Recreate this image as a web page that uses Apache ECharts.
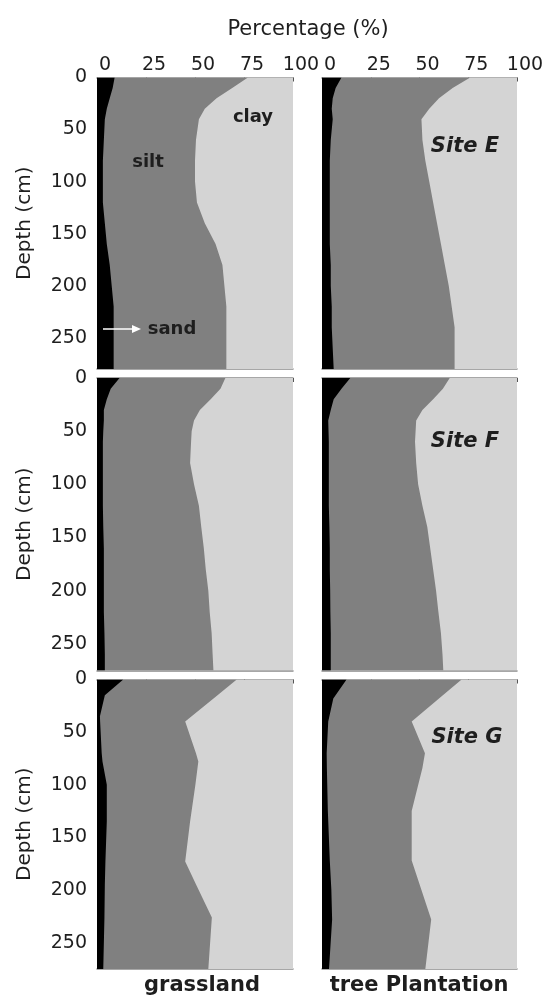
<!DOCTYPE html>
<html>
<head>
<meta charset="utf-8">
<script src="https://cdn.jsdelivr.net/npm/echarts@6/dist/echarts.min.js"></script>
<style>
html,body{margin:0;padding:0;background:#fff;}
#chart{width:547px;height:998px;}
</style>
</head>
<body>
<div id="chart"></div>
<script>
// ---- tick labels / text ----
const xTickValues = [0, 25, 50, 75, 100];
const depthTickStep = 50;
const siteNames = ['Site E', 'Site F', 'Site G'];
const columnNames = ['grassland', 'tree Plantation'];
const layerNames = ['clay', 'silt', 'sand'];
const depthMax = [280, 275, 275];

// ---- Site E, grassland ----
const depthEG = [0, 10, 20, 30, 40, 60, 80, 100, 120, 140, 160, 180, 200, 220, 240, 260, 280];
const sandEG  = [9, 8, 6.5, 5, 4, 3.5, 3, 3, 3, 4, 5, 6.5, 7.5, 8.5, 8.5, 8.5, 8.5];
const siltEG  = [68, 61, 54.5, 50, 48, 47, 47, 47, 48, 51, 55.5, 57.5, 57.5, 57.5, 57.5, 57.5, 57.5];

// ---- Site E, tree plantation ----
const depthET = [0, 10, 20, 30, 40, 60, 80, 100, 120, 140, 160, 180, 200, 220, 240, 260, 280];
const sandET  = [10, 7, 5.5, 5, 5.5, 4.5, 4, 4, 4, 4, 4, 4.5, 4.5, 5, 5, 5.5, 6];
const siltET  = [66, 60, 54.5, 50, 45.5, 47, 49, 51, 53, 55, 57, 58.5, 60.5, 61.5, 63, 62.5, 62];

// ---- Site F, grassland ----
const depthFG = [0, 10, 20, 30, 40, 50, 60, 80, 100, 120, 140, 160, 180, 200, 220, 240, 260, 275];
const sandFG  = [11.5, 7, 5, 3.5, 3.5, 3.2, 3, 3, 3, 3, 3.2, 3.5, 3.5, 3.5, 3.5, 3.8, 4, 4];
const siltFG  = [54, 56, 53, 49, 46, 45.1, 45, 44.5, 46.5, 49, 50, 51, 52, 53.3, 54, 54.7, 55, 55.4];

// ---- Site F, tree plantation ----
const depthFT = [0, 10, 20, 30, 40, 60, 80, 100, 120, 140, 160, 180, 200, 220, 240, 260, 275];
const sandFT  = [14.5, 10, 6, 4.5, 3.2, 3.5, 3.5, 3.5, 3.5, 3.8, 4, 4, 4.2, 4.3, 4.5, 4.5, 4.5];
const siltFT  = [51, 52, 51, 47, 45.1, 44.2, 44.8, 45.8, 48, 50.2, 51.5, 53, 54.3, 55.4, 56.5, 57.3, 57.7];

// ---- Site G, grassland ----
const depthGG = [0, 15, 35, 40, 70, 78, 100, 135, 173, 195, 226, 275];
const sandGG  = [13.4, 4, 1.5, 1.6, 2.4, 2.8, 5, 5, 4.3, 4, 3.8, 3.2];
const siltGG  = [57.9, 57.5, 46.8, 43.4, 48.1, 48.9, 45.2, 42.5, 40.7, 46.6, 54.8, 53.6];

// ---- Site G, tree plantation ----
const depthGT = [0, 18, 40, 70, 84, 125, 172, 200, 228, 275];
const sandGT  = [12.6, 5.8, 3.2, 2.4, 2.5, 3, 4, 4.8, 5.2, 3.6];
const siltGT  = [59, 54.2, 42.8, 50.4, 49, 43, 42, 46.2, 50.8, 49.4];

const panels = [
  {depth: depthEG, sand: sandEG, silt: siltEG},
  {depth: depthET, sand: sandET, silt: siltET},
  {depth: depthFG, sand: sandFG, silt: siltFG},
  {depth: depthFT, sand: sandFT, silt: siltFT},
  {depth: depthGG, sand: sandGG, silt: siltGG},
  {depth: depthGT, sand: sandGT, silt: siltGT}
];

const FONT = 'DejaVu Sans';
const TXT = '#1e1e1e';
const layerColors = {clay: '#d4d4d4', silt: '#808080', sand: '#000000'};

const gridTops = [77.5, 378, 679.5];
const gridHeights = [291.5, 292.5, 289.5];
const gridLefts = [97, 322];
const gridWidths = [196, 195];

const grid = [], xAxis = [], yAxis = [], series = [];
panels.forEach((p, i) => {
  const row = Math.floor(i / 2), col = i % 2;
  grid.push({left: gridLefts[col], top: gridTops[row], width: gridWidths[col], height: gridHeights[row]});
  xAxis.push({
    gridIndex: i, type: 'value', position: 'top', min: 0, max: 100, interval: 25,
    axisLine: {show: true, lineStyle: {color: '#8a8a8a', width: 1.5}},
    axisTick: {show: true, inside: true, length: 4, lineStyle: {color: '#555'}},
    axisLabel: {show: row === 0, fontFamily: FONT, fontSize: 19, color: TXT, margin: 3, padding: [0, 0, 0, 16],
      customValues: xTickValues},
    splitLine: {show: false}
  });
  xAxis.push({
    gridIndex: i, type: 'value', position: 'bottom', min: 0, max: 100, interval: 25,
    axisLine: {show: true, lineStyle: {color: '#8a8a8a', width: 1.5}},
    axisTick: {show: false}, axisLabel: {show: false}, splitLine: {show: false}
  });
  yAxis.push({
    gridIndex: i, type: 'value', inverse: true, min: 0, max: depthMax[row], interval: depthTickStep,
    axisLine: {show: false}, axisTick: {show: false}, splitLine: {show: false},
    axisLabel: {show: col === 0, fontFamily: FONT, fontSize: 19, color: TXT, margin: 10, showMaxLabel: false},
    name: col === 0 ? 'Depth (cm)' : '', nameLocation: 'middle', nameGap: 62,
    nameTextStyle: {fontFamily: FONT, fontSize: 20, color: TXT}
  });
  // cumulative boundaries
  const bSand = p.sand.slice();
  const bSilt = p.sand.map((s, k) => s + p.silt[k]);
  const bClay = p.depth.map(() => 100);
  const bounds = {clay: bClay, silt: bSilt, sand: bSand};
  series.push({
    type: 'custom', xAxisIndex: i * 2, yAxisIndex: i, clip: true, silent: true, z: 2,
    data: layerNames.map((n, k) => [k]),
    renderItem: function (params, api) {
      const name = layerNames[params.dataIndex];
      const upper = bounds[name];
      const pts = [];
      for (let k = 0; k < p.depth.length; k++) pts.push(api.coord([upper[k], p.depth[k]]));
      for (let k = p.depth.length - 1; k >= 0; k--) pts.push(api.coord([0, p.depth[k]]));
      return {type: 'polygon', shape: {points: pts}, style: {fill: layerColors[name], stroke: null}};
    }
  });
});

function txt(text, x, y, font) {
  return {type: 'text', z: 100, silent: true,
    style: {text: text, x: x, y: y, align: 'center', verticalAlign: 'middle', font: font, fill: TXT}};
}

const graphic = [
  txt('Percentage (%)', 308, 30, '21px "DejaVu Sans"'),
  txt(layerNames[1], 148, 162, 'bold 18px "DejaVu Sans"'),
  txt(layerNames[0], 253, 117, 'bold 18px "DejaVu Sans"'),
  txt(layerNames[2], 172, 329, 'bold 18px "DejaVu Sans"'),
  {type: 'line', z: 100, silent: true, shape: {x1: 103, y1: 329, x2: 136, y2: 329}, style: {stroke: '#fff', lineWidth: 1.5}},
  {type: 'polygon', z: 100, silent: true, shape: {points: [[141, 329], [132, 325], [132, 333]]}, style: {fill: '#fff'}},
  txt(siteNames[0], 465, 147, 'italic bold 21px "DejaVu Sans"'),
  txt(siteNames[1], 465, 442, 'italic bold 21px "DejaVu Sans"'),
  txt(siteNames[2], 467, 738, 'italic bold 21px "DejaVu Sans"'),
  txt(columnNames[0], 202, 986, 'bold 21px "DejaVu Sans"'),
  txt(columnNames[1], 419, 986, 'bold 21px "DejaVu Sans"')
];

const chart = echarts.init(document.getElementById('chart'), null, {renderer: 'canvas'});
chart.setOption({
  animation: false,
  backgroundColor: '#fff',
  grid, xAxis, yAxis, series,
  graphic: {elements: graphic}
});
</script>
</body>
</html>
